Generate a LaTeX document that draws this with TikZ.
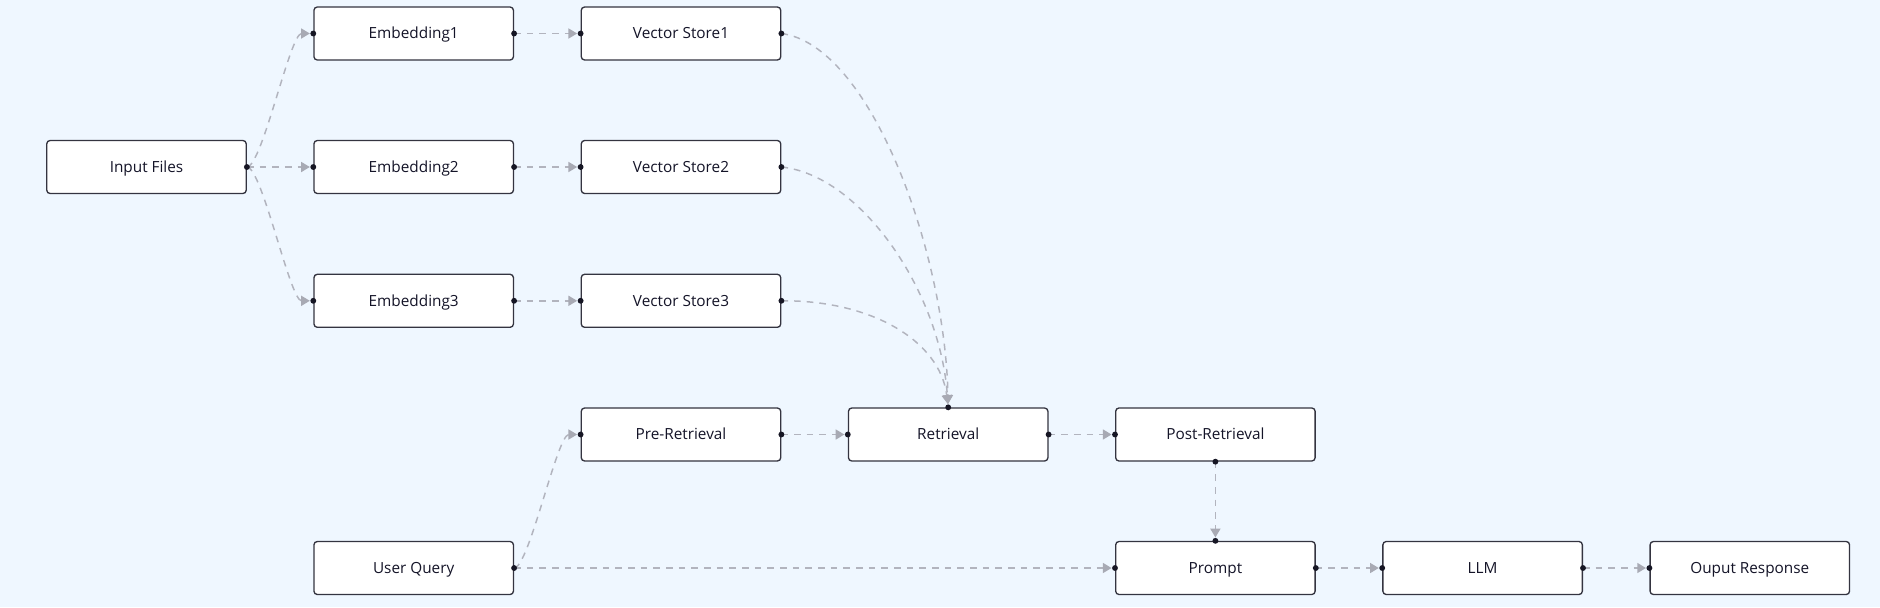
\documentclass[tikz,border=0pt]{standalone}
\usepackage{fontspec}
\setmainfont{Open Sans}
\usetikzlibrary{arrows.meta}
\definecolor{bgc}{RGB}{239,247,255}
\definecolor{boxc}{RGB}{52,52,64}
\definecolor{edgec}{RGB}{178,180,190}
\definecolor{tipc}{RGB}{168,170,180}
\definecolor{dotc}{RGB}{22,22,36}
\definecolor{txtc}{RGB}{20,20,40}
\tikzset{
  box/.style={draw=boxc, fill=white, rounded corners=2.5pt, line width=1pt,
    minimum width=149.6pt, minimum height=39.75pt, inner sep=0pt,
    text height=8.2pt, text depth=0.4pt,
    text=txtc, font=\fontsize{11.5}{14}\selectfont},
  flow/.style={draw=edgec, line width=1.1pt, dash pattern=on 5pt off 4.5pt,
    -{Triangle[length=6.5pt,width=7.5pt,color=tipc]}, shorten >=2.6pt},
  pin/.style={fill=dotc}
}
\begin{document}
\begin{tikzpicture}[x=0.75pt,y=-0.75pt]
\fill[bgc] (0,0) rectangle (1880,607);
\useasboundingbox (0,0) rectangle (1880,607);
% nodes
\node[box] (in)   at (146.5,167)   {Input Files};
\node[box] (e1)   at (413.7,33.5)  {Embedding1};
\node[box] (e2)   at (413.7,167)   {Embedding2};
\node[box] (e3)   at (413.7,300.8) {Embedding3};
\node[box] (v1)   at (681,33.5)    {Vector Store1};
\node[box] (v2)   at (681,167)     {Vector Store2};
\node[box] (v3)   at (681,300.8)   {Vector Store3};
\node[box] (uq)   at (413.7,568)   {User Query};
\node[box] (pre)  at (681,434.5)   {Pre-Retrieval};
\node[box] (ret)  at (948.2,434.5) {Retrieval};
\node[box] (post) at (1215.4,434.5){Post-Retrieval};
\node[box] (pr)   at (1215.4,568)  {Prompt};
\node[box] (llm)  at (1482.6,568)  {LLM};
\node[box] (out)  at (1749.8,568)  {Ouput Response};
% edges
\draw[flow] (in.east) .. controls (262,167) and (290,33.5) .. (e1.west);
\draw[flow] (in.east) -- (e2.west);
\draw[flow] (in.east) .. controls (262,167) and (290,300.8) .. (e3.west);
\draw[flow] (e1.east) -- (v1.west);
\draw[flow] (e2.east) -- (v2.west);
\draw[flow] (e3.east) -- (v3.west);
\draw[flow] (v1.east) .. controls (870,45) and (945,250) .. (ret.north);
\draw[flow] (v2.east) .. controls (860,175) and (940,290) .. (ret.north);
\draw[flow] (v3.east) .. controls (870,300) and (940,340) .. (ret.north);
\draw[flow] (uq.east) .. controls (529,568) and (557,434.5) .. (pre.west);
\draw[flow] (uq.east) -- (pr.west);
\draw[flow] (pre.east) -- (ret.west);
\draw[flow] (ret.east) -- (post.west);
\draw[flow] (post.south) -- (pr.north);
\draw[flow] (pr.east) -- (llm.west);
\draw[flow] (llm.east) -- (out.west);
% connection dots
\foreach \p in {in.east,e1.west,e2.west,e3.west,e1.east,e2.east,e3.east,
  v1.west,v2.west,v3.west,v1.east,v2.east,v3.east,ret.north,uq.east,
  pre.west,pre.east,ret.west,ret.east,post.west,post.south,pr.north,
  pr.west,pr.east,llm.west,llm.east,out.west}
  \fill[pin] (\p) circle[radius=2.2pt];
\end{tikzpicture}
\end{document}
